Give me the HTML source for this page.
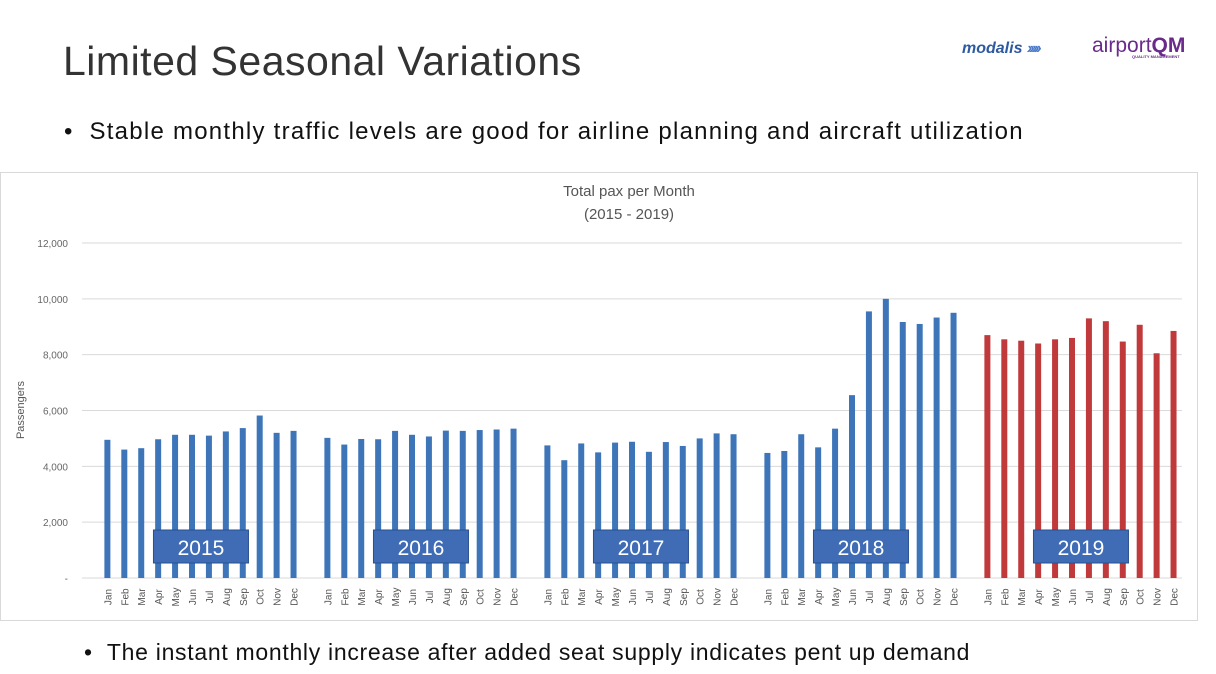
<!DOCTYPE html>
<html><head><meta charset="utf-8"><style>
body{margin:0;width:1216px;height:674px;background:#fff;font-family:"Liberation Sans",sans-serif;overflow:hidden;position:relative}
.t{position:absolute;white-space:nowrap}
</style></head><body>
<div class="t" style="left:63px;top:38px;font-size:41px;color:#333;font-weight:300;letter-spacing:0.5px">Limited Seasonal Variations</div>
<div class="t" style="left:962px;top:40px;font-size:16px;font-style:italic;font-weight:bold;color:#2d5aa0">modalis <span style="color:#4a7ac8;letter-spacing:-3px">›››››</span></div>
<div class="t" style="left:1092px;top:34px;font-size:21px;color:#6a2a8a">airport<b>QM</b><div style="font-size:4px;font-weight:bold;margin-left:40px;margin-top:-4px">QUALITY MANAGEMENT</div></div>
<div class="t" style="left:64px;top:118px;font-size:24px;color:#111;letter-spacing:1.25px">• &nbsp;Stable monthly traffic levels are good for airline planning and aircraft utilization</div>
<div class="t" style="left:84px;top:639px;font-size:23px;color:#111;letter-spacing:0.7px">• &nbsp;The instant monthly increase after added seat supply indicates pent up demand</div>
<svg id="c" width="1216" height="674" style="position:absolute;left:0;top:0">
<rect x="0.5" y="172.5" width="1197" height="448" fill="none" stroke="#d9d9d9"/>
<text x="629" y="196" text-anchor="middle" font-size="15" fill="#555">Total pax per Month</text>
<text x="629" y="219" text-anchor="middle" font-size="15" fill="#555">(2015 - 2019)</text>
<text transform="translate(24,410) rotate(-90)" text-anchor="middle" font-size="11" fill="#555">Passengers</text>
</svg>
<script>
const years=["2015","2016","2017","2018","2019"];
const months=["Jan","Feb","Mar","Apr","May","Jun","Jul","Aug","Sep","Oct","Nov","Dec"];
const v2015=[4950,4600,4650,4970,5130,5130,5100,5250,5370,5820,5200,5270];
const v2016=[5020,4780,4980,4970,5270,5130,5070,5280,5270,5300,5320,5350];
const v2017=[4750,4220,4820,4500,4850,4880,4520,4870,4730,5000,5180,5150];
const v2018=[4480,4550,5150,4680,5350,6550,9550,10000,9170,9100,9330,9500];
const v2019=[8700,8550,8500,8400,8550,8600,9300,9200,8470,9070,8050,8850];
const yTicks=[0,2000,4000,6000,8000,10000,12000];
const series=[v2015,v2016,v2017,v2018,v2019];
const svg=document.getElementById('c');const NS='http://www.w3.org/2000/svg';
const x0=82,x1=1182,y0=578,y1=243,slots=65,sw=(x1-x0)/slots;
const Y=v=>y0-(v/12000)*(y0-y1);
const X=i=>x0+(i+0.5)*sw;
function mk(t,a){const e=document.createElementNS(NS,t);for(const k in a)e.setAttribute(k,a[k]);svg.appendChild(e);return e;}
yTicks.forEach(t=>{const l=mk('line',{x1:x0,x2:x1,y1:Y(t),y2:Y(t),stroke:'#d9d9d9','stroke-width':1});


const tx=mk('text',{x:68,y:Y(t)+4,'text-anchor':'end','font-size':10,fill:'#666'});tx.textContent=t===0?'-':t.toLocaleString('en-US');

});
series.forEach((s,yi)=>{s.forEach((v,m)=>{const i=1+yi*13+m;const cx=X(i);
const r=mk('rect',{x:cx-3,y:Y(v),width:6,height:y0-Y(v),fill:yi===4?'#c0393b':'#3d75b8'});


const tx=mk('text',{transform:`translate(${cx+4},597) rotate(-90)`,'text-anchor':'middle','font-size':10,fill:'#555'});tx.textContent=months[m];

});
const bx=X(1+yi*13+5.5)-47;
const b=mk('rect',{x:bx,y:530,width:95,height:33,fill:'#3f6cb5',stroke:'#2a4f8f','stroke-width':1});


const t=mk('text',{x:bx+47.5,y:555,'text-anchor':'middle','font-size':21,fill:'#fff'});t.textContent=years[yi];

});
</script>
</body></html>
